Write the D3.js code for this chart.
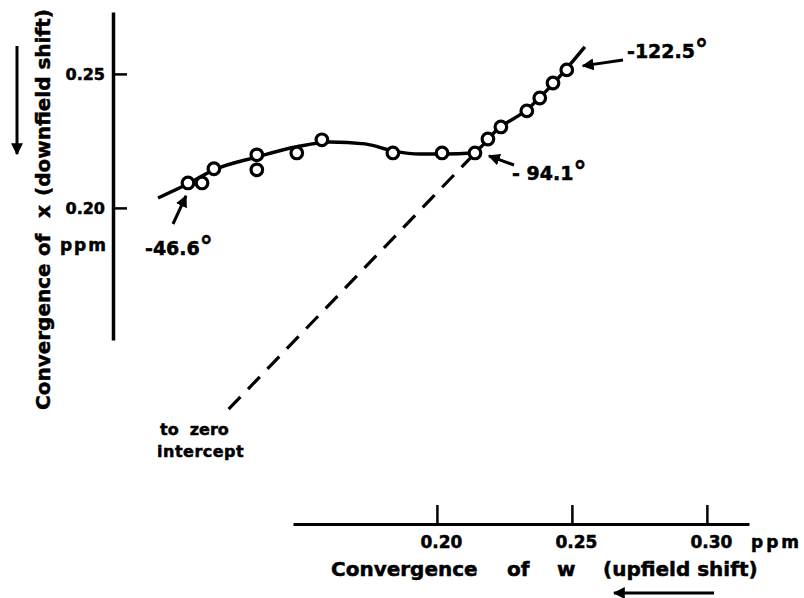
<!DOCTYPE html>
<html>
<head>
<meta charset="utf-8">
<script src="https://cdn.jsdelivr.net/npm/d3@7"></script>
<style>
    body { margin: 0; background: #fff; }
    text { font-family: "DejaVu Sans", sans-serif; font-weight: bold; fill: #000; stroke: #000; stroke-width: 0.5px; }
</style>
</head>
<body>
<svg id="chart" width="804" height="598"></svg>
<script>
// measured points: convergence of w (x axis) vs convergence of x (y axis), ppm
var wValues = [0.1078, 0.1130, 0.1174, 0.1333, 0.1333, 0.1481, 0.1574, 0.1837,
               0.2019, 0.2141, 0.2189, 0.2237, 0.2333, 0.2381, 0.2430, 0.2481];
var xValues = [0.2093, 0.2093, 0.2146, 0.2198, 0.2142, 0.2205, 0.2254, 0.2205,
               0.2205, 0.2205, 0.2257, 0.2302, 0.2362, 0.2410, 0.2466, 0.2515];

// hand drawn curve through the points
var curveW = [0.0967, 0.1078, 0.1174, 0.1333, 0.1481, 0.1604, 0.1733, 0.1837,
              0.1937, 0.2030, 0.2130, 0.2167, 0.2215, 0.2333, 0.2430, 0.2548];
var curveX = [0.2037, 0.2090, 0.2142, 0.2190, 0.2228, 0.2246, 0.2239, 0.2213,
              0.2201, 0.2201, 0.2205, 0.2231, 0.2284, 0.2366, 0.2463, 0.2601];

// dashed extrapolation "to zero intercept"
var dashW = [0.2135, 0.1226];
var dashX = [0.2198, 0.1246];

var xTicks = [0.20, 0.25, 0.30];
var yTicks = [0.20, 0.25];

// temperature labels and the point each one points at
var tempLabels = ["-46.6", "- 94.1", "-122.5"];
var tempIndex = [0, 9, 15];

var svg = d3.select("#chart");

var x = d3.scaleLinear().domain([0.1467, 0.3156]).range([293, 749]),
    y = d3.scaleLinear().domain([0.1507, 0.2731]).range([340, 12]);

svg.append("defs").append("marker")
    .attr("id", "head")
    .attr("viewBox", "0 0 10 10")
    .attr("refX", 9).attr("refY", 5)
    .attr("markerWidth", 4).attr("markerHeight", 4)
    .attr("markerUnits", "strokeWidth")
    .attr("orient", "auto")
    .append("path")
    .attr("d", "M0,0 L10,5 L0,10 z")
    .attr("fill", "#000");

// X axis (ticks point up)
var gx = svg.append("g")
    .attr("transform", "translate(0,524)")
    .call(d3.axisBottom(x).tickValues(xTicks).tickSizeInner(-19).tickSizeOuter(0)
        .tickPadding(12).tickFormat(d3.format(".2f")));
gx.select(".domain").attr("stroke-width", 3);
gx.selectAll(".tick line").attr("stroke-width", 2.5);
gx.selectAll(".tick text")
    .attr("font-size", 17)
    .attr("dx", 4)
    .attr("font-family", "DejaVu Sans");

svg.append("text")
    .attr("x", 751).attr("y", 548)
    .attr("font-size", 17)
    .attr("letter-spacing", 3)
    .text("ppm");

// Y axis (ticks point right, labels on the left)
var gy = svg.append("g")
    .attr("transform", "translate(113,0)")
    .call(d3.axisLeft(y).tickValues(yTicks).tickSizeInner(-14).tickSizeOuter(0)
        .tickPadding(8).tickFormat(d3.format(".2f")));
gy.select(".domain").attr("stroke-width", 3.5);
gy.selectAll(".tick line").attr("stroke-width", 2.5);
gy.selectAll(".tick text")
    .attr("font-size", 16)
    .attr("font-family", "DejaVu Sans");

svg.append("text")
    .attr("x", 108).attr("y", 251)
    .attr("text-anchor", "end")
    .attr("font-size", 17)
    .attr("letter-spacing", 2)
    .text("ppm");

// Axis titles
var xTitle = [["Convergence", 331], ["of", 507], ["w", 557], ["(upfield shift)", 603]];
svg.selectAll(".xtitle")
    .data(xTitle)
    .enter().append("text")
    .attr("class", "xtitle")
    .attr("x", function (d) { return d[1]; })
    .attr("y", 576)
    .attr("font-size", 20)
    .text(function (d) { return d[0]; });

var yTitle = [["Convergence", 410], ["of", 256], ["x", 218], ["(downfield shift)", 196]];
svg.selectAll(".ytitle")
    .data(yTitle)
    .enter().append("text")
    .attr("class", "ytitle")
    .attr("transform", function (d) { return "translate(50," + d[1] + ") rotate(-90)"; })
    .attr("font-size", 20)
    .text(function (d) { return d[0]; });

// direction arrows
svg.append("line")
    .attr("x1", 17).attr("y1", 46).attr("x2", 17).attr("y2", 154)
    .attr("stroke", "#000").attr("stroke-width", 3)
    .attr("marker-end", "url(#head)");
svg.append("line")
    .attr("x1", 714).attr("y1", 593).attr("x2", 614).attr("y2", 593)
    .attr("stroke", "#000").attr("stroke-width", 3)
    .attr("marker-end", "url(#head)");

// dashed extrapolation
svg.append("path")
    .datum(d3.zip(dashW, dashX))
    .attr("fill", "none")
    .attr("stroke", "#000")
    .attr("stroke-width", 3.2)
    .attr("stroke-dasharray", "17,11")
    .attr("d", d3.line().x(function (d) { return x(d[0]); }).y(function (d) { return y(d[1]); }));

svg.append("text").attr("x", 160).attr("y", 435).attr("font-size", 16)
    .attr("xml:space", "preserve").text("to  zero");
svg.append("text").attr("x", 157).attr("y", 457).attr("font-size", 16)
    .attr("letter-spacing", 0.5).text("intercept");

// fitted curve
svg.append("path")
    .datum(d3.zip(curveW, curveX))
    .attr("fill", "none")
    .attr("stroke", "#000")
    .attr("stroke-width", 3.4)
    .attr("d", d3.line().curve(d3.curveMonotoneX)
        .x(function (d) { return x(d[0]); }).y(function (d) { return y(d[1]); }));

// points
svg.selectAll(".pt")
    .data(d3.zip(wValues, xValues))
    .enter().append("circle")
    .attr("class", "pt")
    .attr("cx", function (d) { return x(d[0]); })
    .attr("cy", function (d) { return y(d[1]); })
    .attr("r", 5.8)
    .attr("fill", "#fff")
    .attr("stroke", "#000")
    .attr("stroke-width", 3.2);

// temperature annotations: [label x, label y, arrow start x, y, arrow tip offset dx, dy]
var annot = [
    [145, 255, 173, 224, -2, 13],
    [512, 180, 514, 165, 14, 3],
    [627, 58, 623, 60, 16, -4]
];
annot.forEach(function (a, i) {
    var p = [x(wValues[tempIndex[i]]), y(xValues[tempIndex[i]])];
    svg.append("line")
        .attr("x1", a[2]).attr("y1", a[3])
        .attr("x2", p[0] + a[4]).attr("y2", p[1] + a[5])
        .attr("stroke", "#000").attr("stroke-width", 3)
        .attr("marker-end", "url(#head)");
    var t = svg.append("text")
        .attr("x", a[0]).attr("y", a[1])
        .attr("font-size", 19)
        .attr("xml:space", "preserve");
    t.append("tspan").text(tempLabels[i]);
    t.append("tspan").attr("font-size", 26).attr("dy", 0).text("°");
});
</script>
</body>
</html>
